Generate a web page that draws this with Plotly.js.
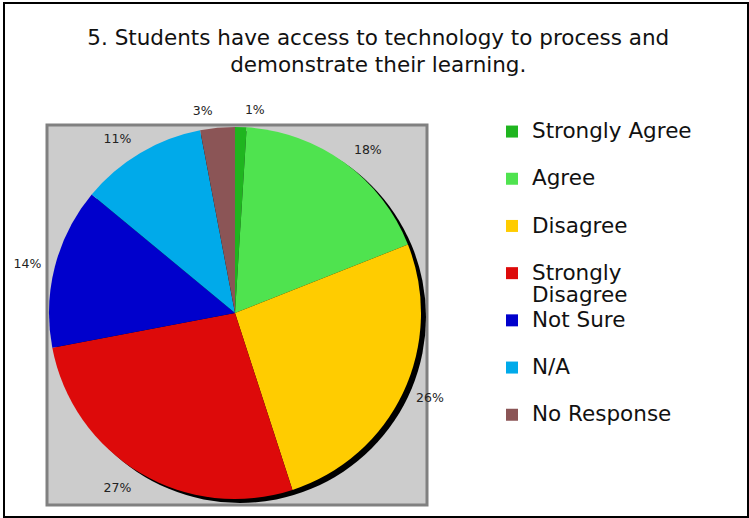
<!DOCTYPE html>
<html>
<head>
<meta charset="utf-8">
<script src="https://cdn.plot.ly/plotly-3.0.1.min.js"></script>
<style>
  html, body { margin: 0; padding: 0; background: #fff; }
  #wrap { position: relative; width: 749px; height: 518px; }
  #chart { position: absolute; left: 0; top: 0; width: 749px; height: 518px; }
  #frame { position: absolute; left: 3px; top: 2px; width: 746px; height: 516px;
           box-sizing: border-box; border: 2px solid #000; pointer-events: none; }
</style>
</head>
<body>
<div id="wrap"><div id="chart"></div><div id="frame"></div></div>
<script>
const categories = ['Strongly Agree', 'Agree', 'Disagree', 'Strongly Disagree', 'Not Sure', 'N/A', 'No Response'];
const values = [1, 18, 26, 27, 14, 11, 3];
const colors = ['#1fb51f', '#4fe34f', '#ffcc00', '#dd0a0a', '#0000cc', '#00aaea', '#8b5556'];
const titleText = '5. Students have access to technology to process and<br>demonstrate their learning.';

// paper (plot) area in pixels
const PX0 = 30, PX1 = 440, PY0 = 114, PY1 = 513;
const PW = PX1 - PX0, PH = PY1 - PY0;
const fx = p => (p - PX0) / PW;
const fy = p => (PY1 - p) / PH;
// pie domain from pixel centre and radius
const dom = (cx, cy, r) => ({ x: [fx(cx - r), fx(cx + r)], y: [fy(cy + r), fy(cy - r)] });

const CX = 235, CY = 313, R = 186;

// legend labels: wrap long names, pad single-line names to two lines for even spacing
const legendLabels = categories.map(c => {
  const i = c.indexOf(' ');
  const lines = c.length > 15 ? [c.slice(0, i), c.slice(i + 1)] : [c, ' '];
  return lines.map(l => '<span style="font-size:21.5px">' + l + '</span>').join('<br>');
});

const total = values.reduce((a, b) => a + b, 0);

const shadow = {
  type: 'pie',
  values: [total],
  labels: ['shadow'],
  marker: { colors: ['#000000'], line: { width: 0 } },
  sort: false,
  textinfo: 'none',
  hoverinfo: 'skip',
  showlegend: false,
  domain: dom(CX + 5, CY + 4, R)
};

const pie = {
  type: 'pie',
  values: values,
  labels: legendLabels,
  marker: { colors: colors, line: { width: 0 } },
  sort: false,
  direction: 'clockwise',
  rotation: 0,
  textinfo: 'none',
  hoverinfo: 'label+percent',
  domain: dom(CX, CY, R)
};

// transparent ring carrying the outside percentage labels a little further out
const labelRing = {
  type: 'pie',
  values: values,
  labels: categories.map(c => 'lbl ' + c),
  marker: { colors: categories.map(() => 'rgba(0,0,0,0)'), line: { width: 0 } },
  sort: false,
  direction: 'clockwise',
  rotation: 0,
  textinfo: 'percent',
  textposition: 'outside',
  outsidetextfont: { family: 'DejaVu Sans', size: 12.5, color: '#222' },
  hoverinfo: 'skip',
  showlegend: false,
  domain: dom(CX, CY, R + 10)
};

const layout = {
  width: 749,
  height: 518,
  margin: { l: PX0, r: 749 - PX1, t: PY0, b: 518 - PY1 },
  paper_bgcolor: '#ffffff',
  font: { family: 'DejaVu Sans', color: '#111' },
  title: {
    text: titleText,
    font: { family: 'DejaVu Sans', size: 21.5, color: '#111' },
    x: 0.505, xanchor: 'center',
    y: 0.914, yanchor: 'top'
  },
  shapes: [{
    type: 'rect', xref: 'paper', yref: 'paper',
    x0: fx(47), x1: fx(427), y0: fy(505), y1: fy(125),
    fillcolor: '#cccccc', line: { color: '#808080', width: 3 }, layer: 'below'
  }],
  showlegend: true,
  legend: {
    x: fx(492), xanchor: 'left', y: 1, yanchor: 'top',
    font: { family: 'DejaVu Sans', size: 17, color: '#111' },
    valign: 'top',
    bgcolor: 'rgba(0,0,0,0)'
  }
};

Plotly.newPlot('chart', [shadow, pie, labelRing], layout, { displayModeBar: false, staticPlot: true });
</script>
</body>
</html>
